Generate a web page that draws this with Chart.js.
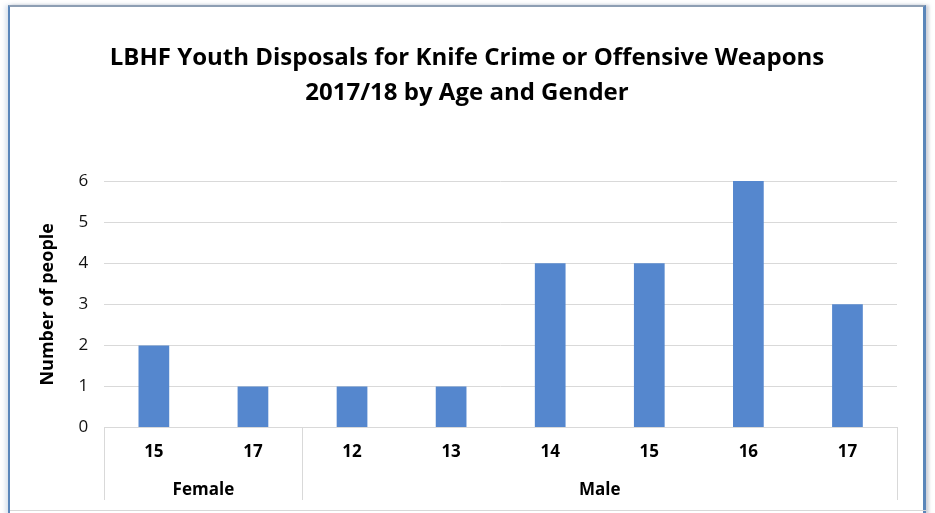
<!DOCTYPE html>
<html>
<head>
<meta charset="utf-8">
<script src="https://cdn.jsdelivr.net/npm/chart.js@4.4.1/dist/chart.umd.min.js"></script>
<style>
  html, body { margin: 0; padding: 0; background: #fff; }
  #wrap { position: relative; width: 935px; height: 513px; overflow: hidden; }
  #frame {
    position: absolute; left: 8px; top: 5px; width: 918px; height: 510px;
    border-left: 2px solid #5a86ba; border-right: 3px solid #5a86ba;
    border-top: 2px solid #8d9eb3;
    box-shadow: -3px 0 4px rgba(120,150,190,0.25), 3px 0 3px rgba(120,130,150,0.35);
    box-sizing: border-box;
  }
  #bottomline { position: absolute; left: 10px; top: 510px; width: 916px; height: 1px; background: #d8d8d8; }
  canvas { position: absolute; left: 0; top: 0; }
</style>
</head>
<body>
<div id="wrap">
  <div id="frame"></div>
  <div id="bottomline"></div>
  <canvas id="chart" width="935" height="513"></canvas>
</div>
<script>
// data
const ages = ['15', '17', '12', '13', '14', '15', '16', '17'];
const people = [2, 1, 1, 1, 4, 4, 6, 3];
const groups = ['Female', 'Male'];
const groupSizes = [2, 6];
const yTicks = [0, 1, 2, 3, 4, 5, 6];

const FONT = "'Open Sans', 'Noto Sans', sans-serif";
const LINE = '#d9d9d9';

// draws the second row of the category axis (gender) with its separators
const groupAxis = {
  id: 'groupAxis',
  afterDraw(chart) {
    const ctx = chart.ctx;
    const x = chart.scales.x;
    const area = chart.chartArea;
    const half = (x.getPixelForValue(1) - x.getPixelForValue(0)) / 2;
    const top = area.bottom;
    const bottom = 500;
    ctx.save();
    ctx.strokeStyle = LINE;
    ctx.lineWidth = 1;
    ctx.fillStyle = '#000';
    ctx.font = 'bold 17px ' + FONT;
    ctx.textAlign = 'center';
    ctx.textBaseline = 'middle';
    let start = 0;
    const edges = [x.getPixelForValue(0) - half];
    groups.forEach((g, i) => {
      const end = start + groupSizes[i] - 1;
      const l = x.getPixelForValue(start) - half;
      const r = x.getPixelForValue(end) + half;
      edges.push(r);
      ctx.fillText(g, (l + r) / 2, 490);
      start = end + 1;
    });
    edges.forEach(e => {
      const px = Math.round(e) + 0.5;
      ctx.beginPath();
      ctx.moveTo(px, top);
      ctx.lineTo(px, bottom);
      ctx.stroke();
    });
    ctx.restore();
  }
};

new Chart(document.getElementById('chart'), {
  type: 'bar',
  data: {
    labels: ages,
    datasets: [{
      label: 'Number of people',
      data: people,
      backgroundColor: '#5587ce',
      barPercentage: 0.31,
      categoryPercentage: 1
    }]
  },
  options: {
    responsive: false,
    animation: false,
    layout: { padding: { left: 37, right: 38, top: 41, bottom: 37 } },
    plugins: {
      legend: { display: false },
      tooltip: { enabled: false },
      title: {
        display: true,
        text: ['LBHF Youth Disposals for Knife Crime or Offensive Weapons', '2017/18 by Age and Gender'],
        color: '#000',
        font: { family: FONT, size: 24, weight: 'bold', lineHeight: 1.46 },
        padding: { top: 0, bottom: 70 }
      }
    },
    scales: {
      x: {
        grid: { display: false, drawTicks: false },
        border: { display: true, color: LINE },
        ticks: { color: '#000', font: { family: FONT, size: 17, weight: 'bold' }, padding: 14 }
      },
      y: {
        min: 0,
        max: 6,
        afterBuildTicks: axis => { axis.ticks = yTicks.map(v => ({ value: v })); },
        grid: { color: LINE, drawTicks: false },
        border: { display: false },
        ticks: { color: '#111', font: { family: FONT, size: 17 }, padding: 16 },
        title: {
          display: true,
          text: 'Number of people',
          color: '#000',
          font: { family: FONT, size: 18, weight: 'bold' },
          padding: { top: 0, bottom: 4 }
        }
      }
    }
  },
  plugins: [groupAxis]
});
</script>
</body>
</html>
